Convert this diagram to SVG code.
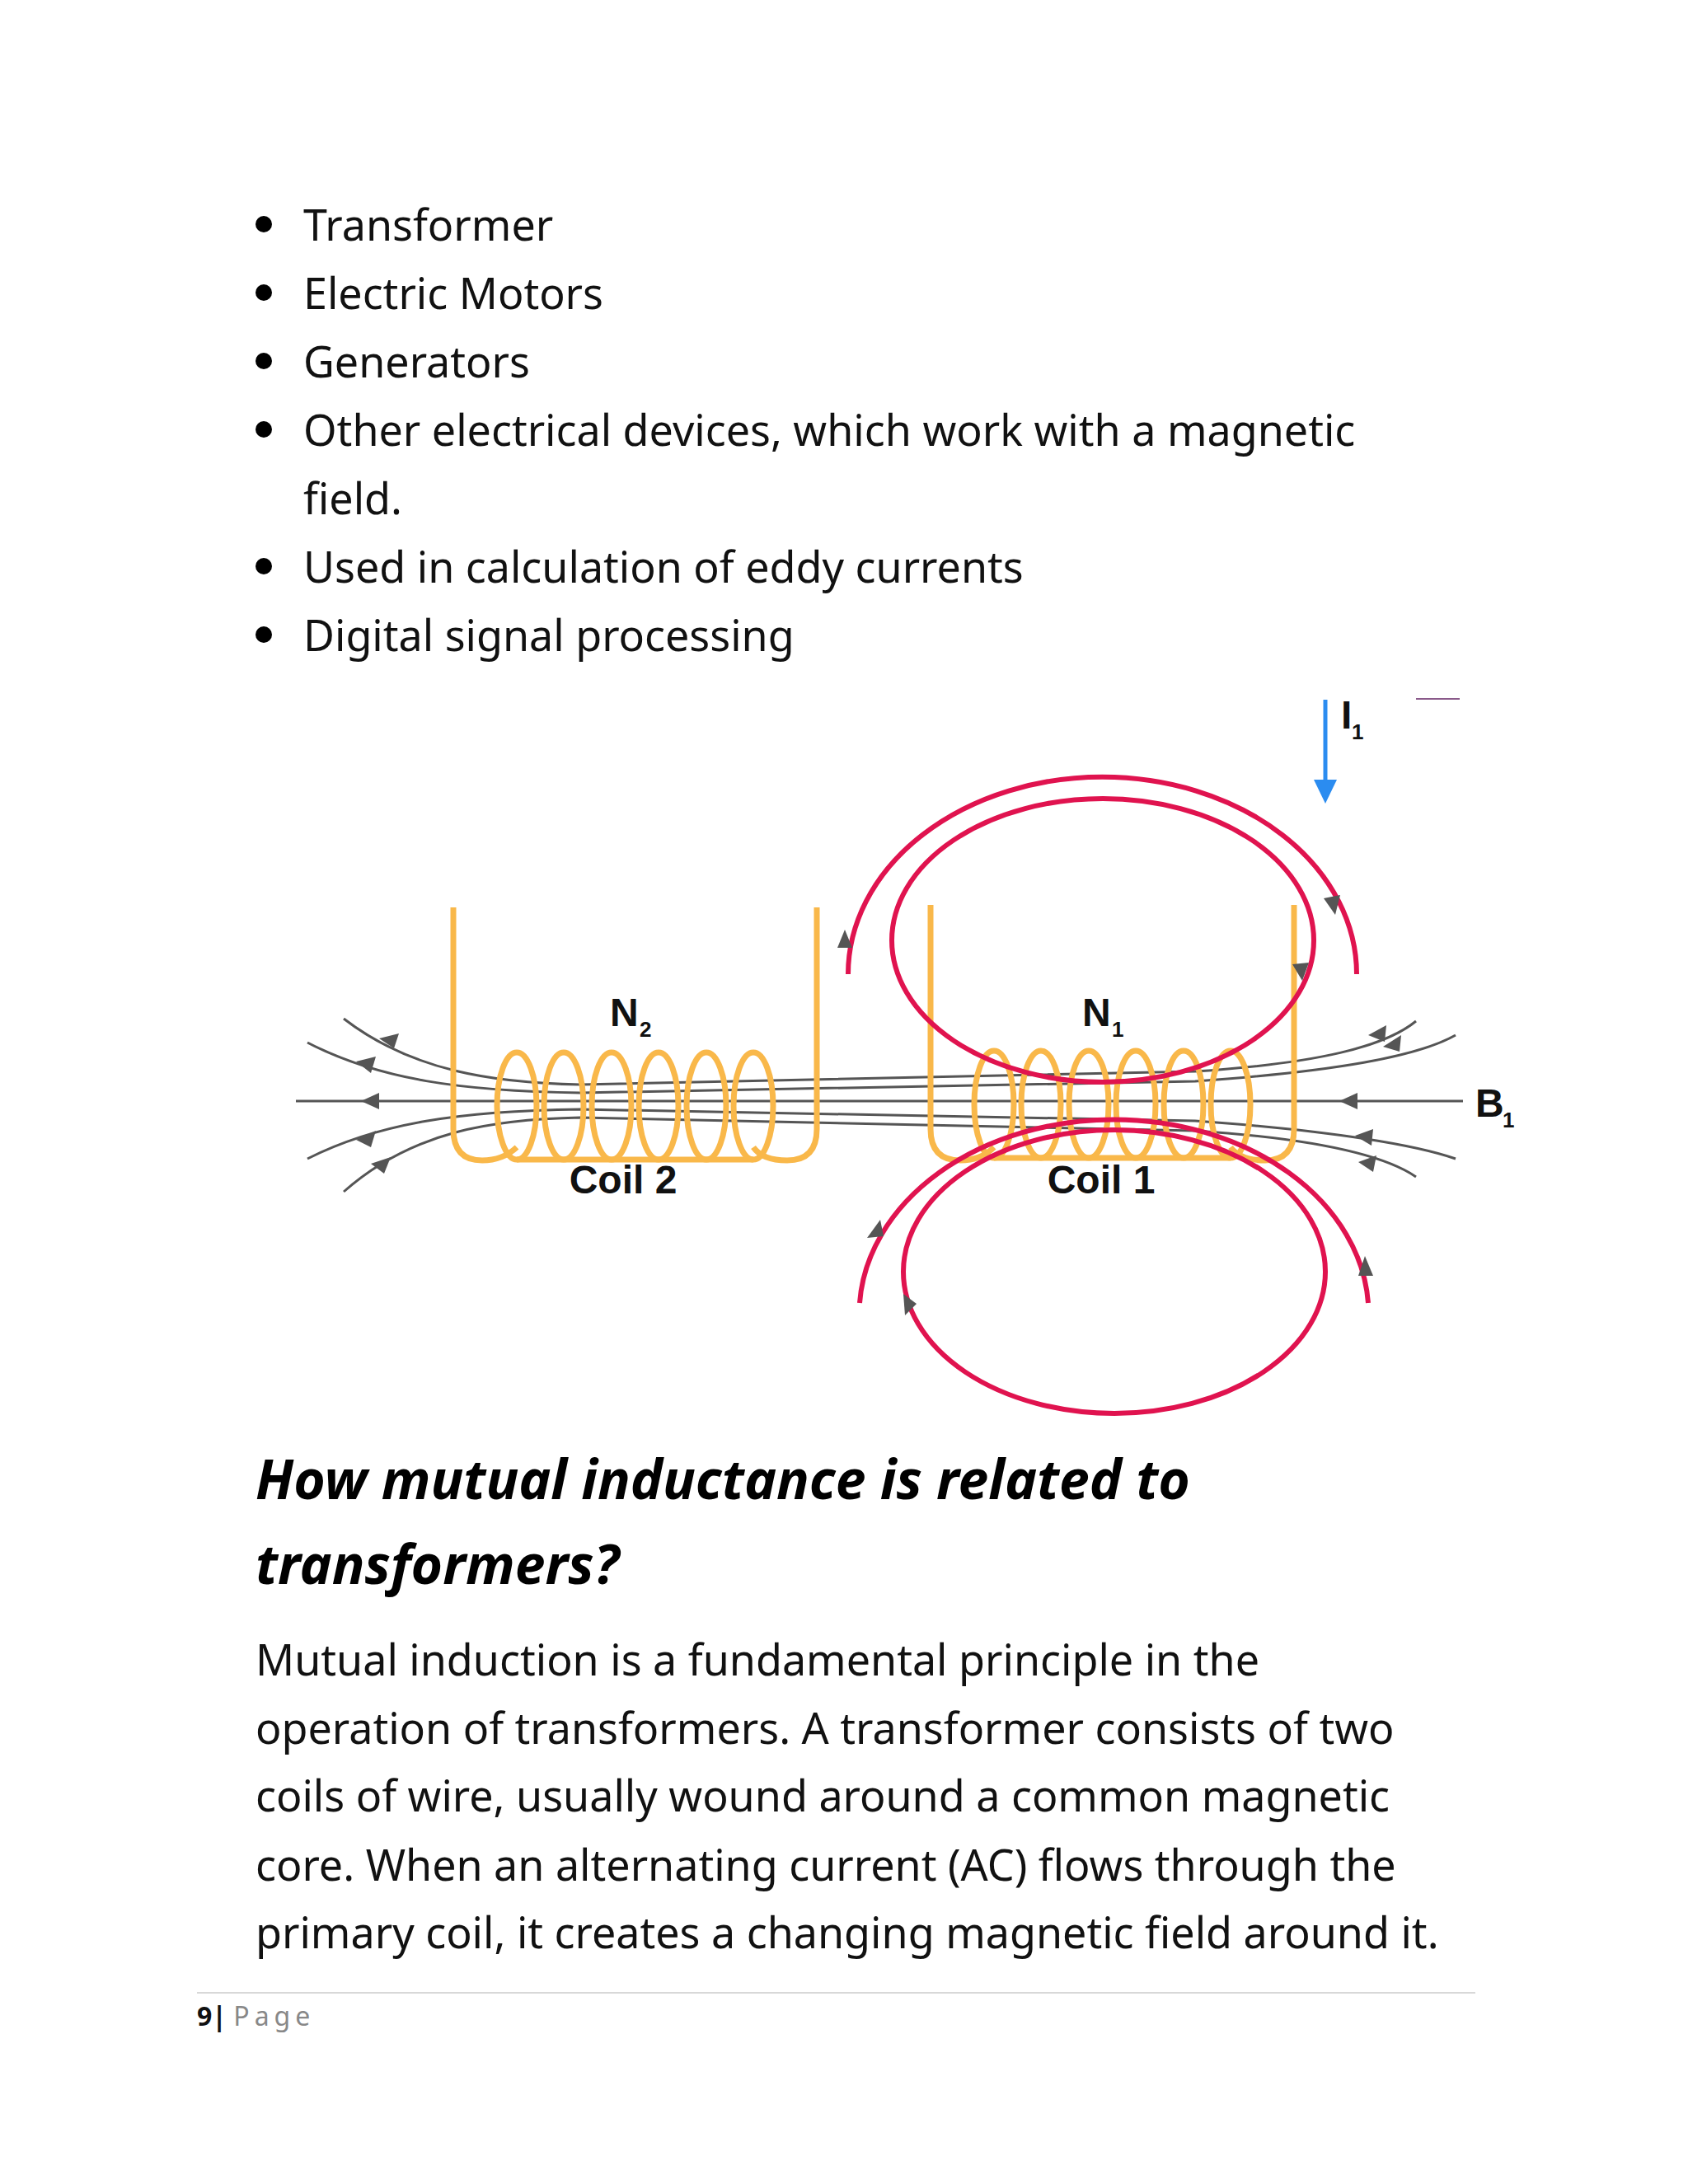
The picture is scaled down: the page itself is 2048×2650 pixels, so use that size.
<svg xmlns="http://www.w3.org/2000/svg" width="2048" height="2650" viewBox="0 0 2048 2650">
<defs>
<style>
.t{font-family:"Noto Sans","Open Sans",sans-serif;font-size:52px;fill:#111}
.h{font-family:"Noto Sans","Open Sans",sans-serif;font-size:66px;font-weight:bold;font-style:italic;fill:#000}
.lb{font-family:"Liberation Sans",Arial,sans-serif;font-weight:bold;font-size:48px;fill:#111}
.sub{font-family:"Liberation Sans",Arial,sans-serif;font-weight:bold;font-size:26px;fill:#111}
.coil{fill:none;stroke:#f9b84a;stroke-width:7}
.red{fill:none;stroke:#e0134f;stroke-width:6}
.fl{fill:none;stroke:#555;stroke-width:3}
.ah{fill:#555}
</style>
</defs>
<rect width="2048" height="2650" fill="#fff"/>
<g id="bullets">
<circle cx="320" cy="272" r="10" fill="#000"/><text class="t" x="368" y="292">Transformer</text>
<circle cx="320" cy="355" r="10" fill="#000"/><text class="t" x="368" y="375">Electric Motors</text>
<circle cx="320" cy="438" r="10" fill="#000"/><text class="t" x="368" y="458">Generators</text>
<circle cx="320" cy="521" r="10" fill="#000"/><text class="t" x="368" y="541">Other electrical devices, which work with a magnetic</text>
<text class="t" x="368" y="624">field.</text>
<circle cx="320" cy="687" r="10" fill="#000"/><text class="t" x="368" y="707">Used in calculation of eddy currents</text>
<circle cx="320" cy="770" r="10" fill="#000"/><text class="t" x="368" y="790">Digital signal processing</text>
</g>
<g id="field-lines">
<line class="fl" x1="359" y1="1336" x2="1775" y2="1336"/>
<path class="fl" d="M417 1236 C500 1300 600 1314 704 1316 L1450 1300 C1600 1290 1680 1270 1718 1239"/>
<path class="fl" d="M373 1265 C460 1310 560 1324 704 1326 L1450 1312 C1620 1300 1720 1282 1766 1256"/>
<path class="fl" d="M373 1406 C460 1362 560 1348 704 1346 L1450 1360 C1620 1372 1720 1390 1766 1406"/>
<path class="fl" d="M417 1446 C500 1372 600 1358 704 1356 L1450 1372 C1600 1382 1680 1402 1718 1428"/>
<g class="ah">
<polygon points="438,1336 460,1326 460,1346"/>
<polygon points="1625,1336 1647,1326 1647,1346"/>
<polygon points="460,1260 478,1272 484,1254"/>
<polygon points="432,1288 450,1302 456,1282"/>
<polygon points="432,1383 456,1372 450,1392"/>
<polygon points="450,1412 474,1404 466,1424"/>
<polygon points="1660,1256 1682,1244 1680,1264"/>
<polygon points="1678,1270 1700,1256 1698,1276"/>
<polygon points="1644,1378 1666,1370 1664,1390"/>
<polygon points="1648,1410 1670,1402 1666,1422"/>
</g>
</g>
<g id="coil2">
<path class="coil" d="M550 1101 V1370 Q550 1408 585 1408 Q610 1408 627 1392 M991 1101 V1370 Q991 1408 955 1408 Q925 1408 914 1392"/>
<g class="coil">
<ellipse cx="627" cy="1342" rx="24" ry="65"/><ellipse cx="684" cy="1342" rx="24" ry="65"/><ellipse cx="742" cy="1342" rx="24" ry="65"/><ellipse cx="799" cy="1342" rx="24" ry="65"/><ellipse cx="857" cy="1342" rx="24" ry="65"/><ellipse cx="914" cy="1342" rx="24" ry="65"/>
<path d="M627 1407 Q655 1407 684 1407 M684 1407 Q713 1407 742 1407 M742 1407 Q770 1407 799 1407 M799 1407 Q828 1407 857 1407 M857 1407 Q885 1407 914 1407"/>
</g>
<text class="lb" x="740" y="1245">N</text><text class="sub" x="776" y="1258">2</text>
<text class="lb" x="756" y="1448" text-anchor="middle">Coil 2</text>
</g>
<g id="coil1">
<path class="coil" d="M1129 1098 V1370 Q1129 1408 1165 1408 Q1190 1408 1206 1392 M1570 1098 V1370 Q1570 1408 1535 1408 Q1505 1408 1493 1392"/>
<g class="coil">
<ellipse cx="1206" cy="1340" rx="24" ry="65"/><ellipse cx="1263" cy="1340" rx="24" ry="65"/><ellipse cx="1321" cy="1340" rx="24" ry="65"/><ellipse cx="1378" cy="1340" rx="24" ry="65"/><ellipse cx="1436" cy="1340" rx="24" ry="65"/><ellipse cx="1493" cy="1340" rx="24" ry="65"/>
<path d="M1206 1405 H1493"/>
</g>
<text class="lb" x="1313" y="1245">N</text><text class="sub" x="1349" y="1258">1</text>
<text class="lb" x="1336" y="1448" text-anchor="middle">Coil 1</text>
</g>
<g id="field-loops">
<ellipse class="red" cx="1338" cy="1141" rx="256" ry="172"/>
<path class="red" d="M1029 1182 A308 239 0 0 1 1646 1182"/>
<ellipse class="red" cx="1352" cy="1543" rx="256" ry="172"/>
<path class="red" d="M1043 1581 A309 236 0 0 1 1660 1581"/>
<g class="ah">
<polygon points="1025,1128 1016,1150 1034,1150"/>
<polygon points="1620,1110 1606,1090 1626,1086"/>
<polygon points="1580,1190 1568,1170 1588,1168"/>
<polygon points="1052,1502 1068,1480 1072,1500"/>
<polygon points="1098,1596 1096,1570 1112,1582"/>
<polygon points="1656,1524 1648,1548 1666,1548"/>
</g>
</g>
<g id="current">
<line x1="1608" y1="849" x2="1608" y2="950" stroke="#2b8cf0" stroke-width="5"/>
<polygon points="1594,946 1622,946 1608,975" fill="#2b8cf0"/>
<text class="lb" x="1627" y="884">I</text><text class="sub" x="1640" y="897">1</text>
<line x1="1718" y1="848" x2="1771" y2="848" stroke="#8a5a8a" stroke-width="2"/>
<text class="lb" x="1790" y="1355">B</text><text class="sub" x="1823" y="1368">1</text>
</g>
<g id="body">
<text class="h" x="310" y="1819">How mutual inductance is related to</text>
<text class="h" x="310" y="1922">transformers?</text>
<text class="t" x="310" y="2033">Mutual induction is a fundamental principle in the</text>
<text class="t" x="310" y="2116">operation of transformers. A transformer consists of two</text>
<text class="t" x="310" y="2198">coils of wire, usually wound around a common magnetic</text>
<text class="t" x="310" y="2282">core. When an alternating current (AC) flows through the</text>
<text class="t" x="310" y="2364">primary coil, it creates a changing magnetic field around it.</text>
<line x1="239" y1="2418" x2="1790" y2="2418" stroke="#d8d8d8" stroke-width="2"/>
<text x="239" y="2458" style="font-family:'Noto Sans',sans-serif;font-size:32px"><tspan font-weight="bold" fill="#111">9| </tspan><tspan fill="#888" letter-spacing="6">Page</tspan></text>
</g>
</svg>
